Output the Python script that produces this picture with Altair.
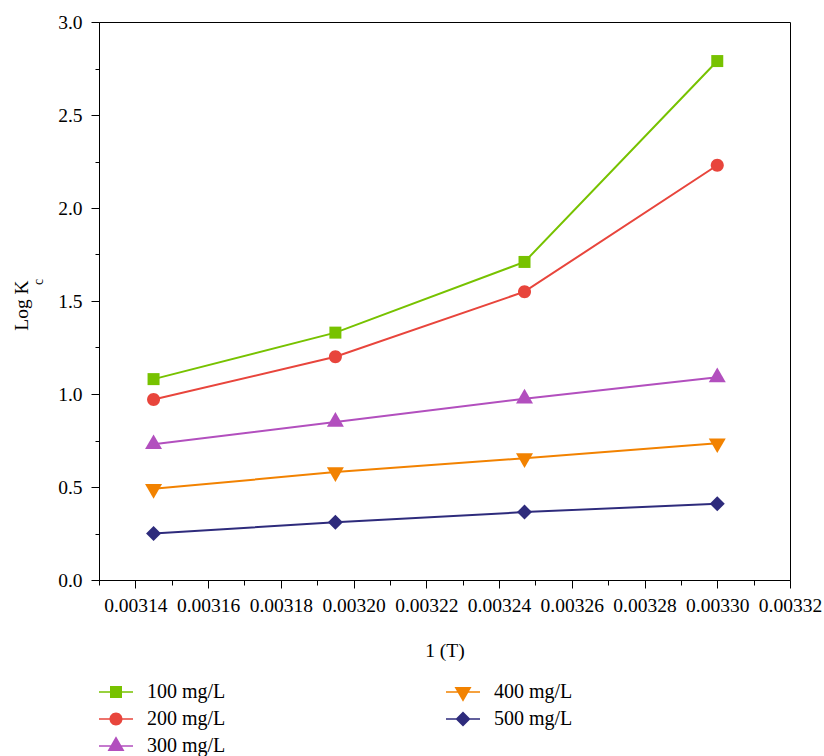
import altair as alt
import pandas as pd

# ---- data ----
inv_T = [0.003145, 0.003195, 0.003247, 0.003300]
series_names = ["100 mg/L", "200 mg/L", "300 mg/L", "400 mg/L", "500 mg/L"]
logkc_100 = [1.08, 1.33, 1.71, 2.79]
logkc_200 = [0.97, 1.20, 1.55, 2.23]
logkc_300 = [0.73, 0.85, 0.975, 1.09]
logkc_400 = [0.49, 0.58, 0.655, 0.735]
logkc_500 = [0.25, 0.31, 0.365, 0.41]

x_ticks = [round(0.00313 + i * 0.00001, 5) for i in range(20)]
y_ticks = [i * 0.25 for i in range(13)]

series_values = [logkc_100, logkc_200, logkc_300, logkc_400, logkc_500]
rows = []
for name, vals in zip(series_names, series_values):
    for x, y in zip(inv_T, vals):
        rows.append({"invT": x, "logKc": y, "series": name})
df = pd.DataFrame(rows)

color_map = {
    "100 mg/L": "#77C200",
    "200 mg/L": "#E8453C",
    "300 mg/L": "#B24FBE",
    "400 mg/L": "#F28200",
    "500 mg/L": "#2E2B7C",
}
# point marker paths (size 100 -> unit 5px)
shape_map = {
    "100 mg/L": "M-1.2,-1.2H1.2V1.2H-1.2Z",
    "200 mg/L": "M1.3,0A1.3,1.3 0 1,1 -1.3,0A1.3,1.3 0 1,1 1.3,0Z",
    "300 mg/L": "M0,-1.96L1.7,0.98H-1.7Z",
    "400 mg/L": "M-1.7,-0.98H1.7L0,1.96Z",
    "500 mg/L": "M0,-1.5L1.5,0L0,1.5L-1.5,0Z",
}
# legend paths (size 400 -> unit 10px), line + marker
line_path = "M-1.7,-0.075H1.7V0.075H-1.7Z"
legend_paths = {
    "100 mg/L": line_path + "M-0.6,-0.6H0.6V0.6H-0.6Z",
    "200 mg/L": line_path + "M0.65,0A0.65,0.65 0 1,1 -0.65,0A0.65,0.65 0 1,1 0.65,0Z",
    "300 mg/L": line_path + "M0,-0.98L0.85,0.49H-0.85Z",
    "400 mg/L": line_path + "M-0.85,-0.49H0.85L0,0.98Z",
    "500 mg/L": line_path + "M0,-0.75L0.75,0L0,0.75L-0.75,0Z",
}
shape_expr = ""
for name in series_names[:-1]:
    shape_expr += f"datum.value === '{name}' ? '{legend_paths[name]}' : "
shape_expr += f"'{legend_paths[series_names[-1]]}'"

FONT = "Liberation Serif"

x_enc = alt.X(
    "invT:Q",
    scale=alt.Scale(domain=[0.00313, 0.00332], nice=False, zero=False),
    axis=alt.Axis(
        title="1 (T)",
        values=x_ticks,
        labelExpr="round(datum.value*100000) % 2 == 0 ? format(datum.value, '.5f') : ''",
        tickSize={"condition": {"test": "round(datum.value*100000) % 2 == 0", "value": 8}, "value": 5},
        labelFlush=False,
        labelOverlap=False,
        labelBound=False,
        labelPadding=8,
        titlePadding=27,
        grid=False,
    ),
)
y_enc = alt.Y(
    "logKc:Q",
    scale=alt.Scale(domain=[0, 3], nice=False, zero=True),
    axis=alt.Axis(
        title="Log K",
        values=y_ticks,
        labelExpr="round(datum.value*4) % 2 == 0 ? format(datum.value, '.1f') : ''",
        tickSize={"condition": {"test": "round(datum.value*4) % 2 == 0", "value": 8}, "value": 4},
        labelOverlap=False,
        labelPadding=9,
        titleAngle=270,
        titleAlign="center",
        titleBaseline="alphabetic",
        titleX=-72,
        titleY=283,
        grid=False,
    ),
)
color_scale = alt.Scale(domain=series_names, range=[color_map[n] for n in series_names])

legend = alt.Legend(
    title=None,
    orient="none",
    legendX=7,
    legendY=660,
    columns=2,
    columnPadding=220,
    rowPadding=7,
    symbolSize=400,
    symbolStrokeWidth=0,
    symbolOpacity=1,
    symbolFillColor="black",
    symbolType=alt.ExprRef(expr=shape_expr),
    labelOffset=21,
    labelFont=FONT,
    labelFontSize=20,
    labelColor="black",
    labelLimit=0,
    padding=0,
)
color_enc = alt.Color("series:N", scale=color_scale, legend=legend)

lines = alt.Chart(df).mark_line(strokeWidth=2).encode(
    x=x_enc,
    y=y_enc,
    color=color_enc,
    detail="series:N",
)

point_layers = []
for name in series_names:
    point_layers.append(
        alt.Chart(df)
        .transform_filter(alt.datum.series == name)
        .mark_point(filled=True, size=100, opacity=1, shape=shape_map[name])
        .encode(x=x_enc, y=y_enc, color=color_enc)
    )

sub_df = pd.DataFrame({"t": ["c"]})
subscript = alt.Chart(sub_df).mark_text(
    font=FONT, fontSize=14, angle=270, align="left", baseline="alphabetic", color="black"
).encode(
    text="t:N",
    x=alt.value(-56),
    y=alt.value(263),
)

chart = (
    alt.layer(lines, *point_layers, subscript)
    .properties(
        width=691,
        height=558,
        autosize=alt.AutoSizeParams(type="none"),
        padding={"left": 99, "top": 22, "right": 34, "bottom": 176},
    )
    .configure_view(stroke="black", strokeWidth=1)
    .configure_axis(
        labelFont=FONT,
        labelFontSize=19.5,
        labelColor="black",
        titleFont=FONT,
        titleFontSize=19.5,
        titleFontWeight="normal",
        titleColor="black",
        domainColor="black",
        domainWidth=1,
        tickColor="black",
        tickWidth=1,
    )
    .configure_legend(labelFont=FONT, labelFontSize=20, labelColor="black")
)

chart.save("out.html", embed_options={"renderer": "svg", "actions": False})
